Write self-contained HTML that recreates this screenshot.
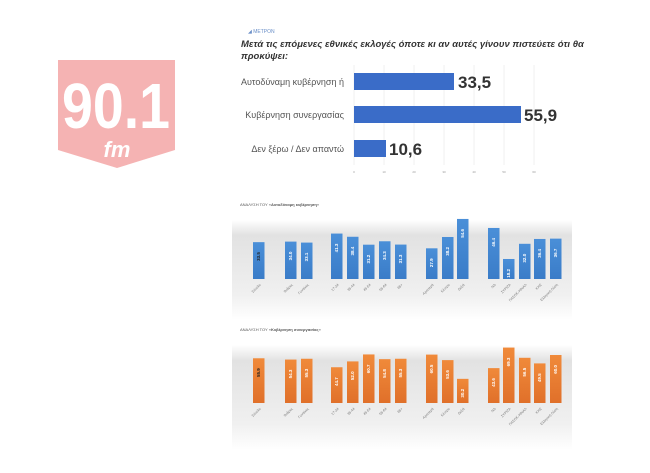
<!DOCTYPE html>
<html><head><meta charset="utf-8"><style>
html,body{margin:0;padding:0;background:#fff;}
svg{display:block;font-family:"Liberation Sans","DejaVu Sans",sans-serif;}
</style></head><body>
<svg width="650" height="473" viewBox="0 0 650 473" xmlns="http://www.w3.org/2000/svg">
<defs>
<linearGradient id="bg" x1="0" y1="0" x2="0" y2="1">
<stop offset="0" stop-color="#fff"/><stop offset="0.15" stop-color="#e2e2e2"/><stop offset="0.75" stop-color="#f0f0f0"/><stop offset="1" stop-color="#fff"/>
</linearGradient>
<linearGradient id="bl" x1="0" y1="0" x2="0" y2="1"><stop offset="0" stop-color="#4a8fd8"/><stop offset="1" stop-color="#3a7cc8"/></linearGradient>
<linearGradient id="or" x1="0" y1="0" x2="0" y2="1"><stop offset="0" stop-color="#f08a3a"/><stop offset="1" stop-color="#e0702a"/></linearGradient>
</defs>
<!-- logo -->
<polygon points="58,60 175,60 175,150 117,168 58,150" fill="#f5b3b3"/>
<text x="62" y="128" font-size="64" font-weight="bold" fill="#fff" textLength="108" lengthAdjust="spacingAndGlyphs">90.1</text>
<text x="117" y="157" text-anchor="middle" font-size="22" font-weight="bold" font-style="italic" fill="#fff">fm</text>
<!-- top chart -->
<text x="248" y="33" font-size="5" fill="#6a8fc8">◢ ΜΕΤΡΟΝ</text>
<text x="241" y="47" font-size="9.5" font-weight="bold" font-style="italic" fill="#333">Μετά τις επόμενες εθνικές εκλογές όποτε κι αν αυτές γίνουν πιστεύετε ότι θα</text>
<text x="241" y="59" font-size="9.5" font-weight="bold" font-style="italic" fill="#333">προκύψει:</text>
<g stroke="#e0e0e0" stroke-width="0.5">
<line x1="354" y1="65" x2="354" y2="165"/><line x1="384" y1="65" x2="384" y2="165"/><line x1="414" y1="65" x2="414" y2="165"/><line x1="444" y1="65" x2="444" y2="165"/><line x1="474" y1="65" x2="474" y2="165"/><line x1="504" y1="65" x2="504" y2="165"/><line x1="534" y1="65" x2="534" y2="165"/>
</g>
<rect x="354" y="73" width="100" height="17" fill="#3a6cc8"/>
<rect x="354" y="106" width="167" height="17" fill="#3a6cc8"/>
<rect x="354" y="140" width="32" height="17" fill="#3a6cc8"/>
<g font-size="9" fill="#555" text-anchor="end">
<text x="344" y="85">Αυτοδύναμη κυβέρνηση ή</text>
<text x="344" y="118">Κυβέρνηση συνεργασίας</text>
<text x="344" y="152">Δεν ξέρω / Δεν απαντώ</text>
</g>
<g font-size="17" font-weight="bold" fill="#333">
<text x="458" y="88">33,5</text>
<text x="524" y="121">55,9</text>
<text x="389" y="155">10,6</text>
</g>
<g font-size="3" fill="#999" text-anchor="middle">
<text x="354" y="173">0</text><text x="384" y="173">10</text><text x="414" y="173">20</text><text x="444" y="173">30</text><text x="474" y="173">40</text><text x="504" y="173">50</text><text x="534" y="173">60</text>
</g>
<!-- blue chart -->
<text x="240" y="206" font-size="4" fill="#555">ΑΝΑΛΥΣΗ ΤΟΥ «<tspan font-weight="bold">Αυτοδύναμη κυβέρνηση</tspan>»</text>
<rect x="232" y="220" width="340" height="100" fill="url(#bg)"/>
<g id="blue"></g>
<!-- orange chart -->
<text x="240" y="331" font-size="4" fill="#555">ΑΝΑΛΥΣΗ ΤΟΥ «<tspan font-weight="bold">Κυβέρνηση συνεργασίας</tspan>»</text>
<rect x="232" y="345" width="340" height="105" fill="url(#bg)"/>
<g id="orange"></g>
<script>
var xs=[253,285,301,331,347,363,379,395,426,442,457,488,503,519,534,550];
var bv=[33.5,34.0,33.1,41.3,38.4,31.2,34.3,31.3,27.9,38.2,54.6,46.4,18.2,32.0,36.4,36.7];
var ov=[55.9,54.3,55.3,44.7,52.0,60.7,54.8,55.3,60.5,53.6,30.2,43.6,69.3,56.5,49.5,60.0];
var labs=["Σύνολο","Άνδρες","Γυναίκες","17-34","35-44","45-54","55-64","65+","Αριστερά","Κέντρο","Δεξιά","ΝΔ","ΣΥΡΙΖΑ","ΠΑΣΟΚ-ΚΙΝΑΛ","ΚΚΕ","Ελληνική Λύση"];
var ns="http://www.w3.org/2000/svg";
function draw(g,vals,base,k,fill){
 var el=document.getElementById(g);
 vals.forEach(function(v,i){
  var h=v*k,x=xs[i];
  var r=document.createElementNS(ns,"rect");
  r.setAttribute("x",x);r.setAttribute("y",base-h);r.setAttribute("width",11.5);r.setAttribute("height",h);r.setAttribute("fill",fill);
  el.appendChild(r);
  var t=document.createElementNS(ns,"text");
  var cx=x+7,cy=base-h+10;
  t.setAttribute("transform","translate("+cx+","+cy+") rotate(-90)");
  t.setAttribute("font-size","4.5");t.setAttribute("font-weight","bold");t.setAttribute("text-anchor","end");
  t.setAttribute("fill",i==0?"#222":"#fff");
  t.textContent=v.toFixed(1);
  el.appendChild(t);
  var l=document.createElementNS(ns,"text");
  l.setAttribute("transform","translate("+(x+8)+","+(base+6)+") rotate(-45)");
  l.setAttribute("font-size","3.5");l.setAttribute("fill","#777");l.setAttribute("text-anchor","end");
  l.textContent=labs[i];el.appendChild(l);
 });
}
draw("blue",bv,279,1.1,"url(#bl)");
draw("orange",ov,403,0.8,"url(#or)");
</script>
</svg>
</body></html>
